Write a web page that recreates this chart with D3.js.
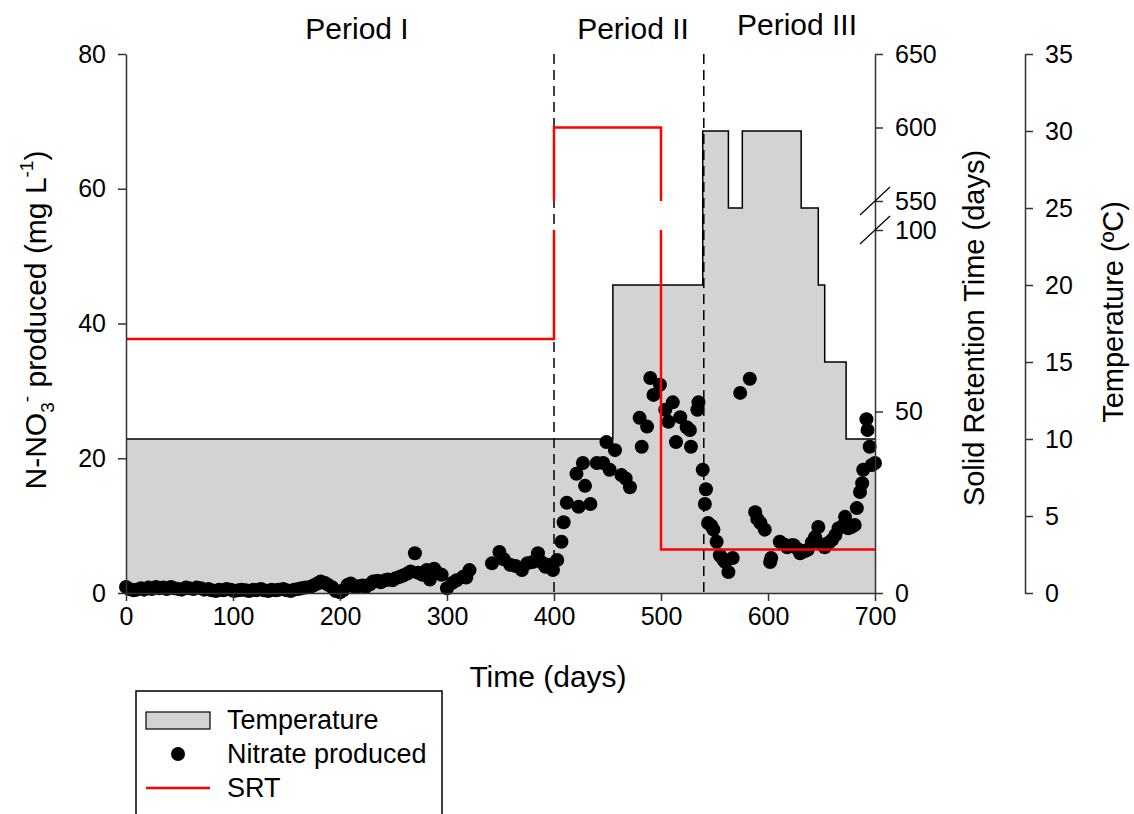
<!DOCTYPE html>
<html>
<head>
    <meta charset="utf-8">
    <title>Nitrate, SRT and temperature</title>
    <style>
        body { margin: 0; background: #fff; }
        svg text { font-family: "Liberation Sans", Arial, sans-serif; fill: #000; }
        .axis path, .axis line { stroke: #333; stroke-width: 1.5; }
        .axis text { font-size: 25px; }
    </style>
</head>
<body>
<div id="plot"></div>
<script src="https://cdn.jsdelivr.net/npm/d3@7"></script>
<script>

    // temperature steps (day the step starts, degC)
    let tempDays = [0, 455, 539, 563, 576, 631, 647, 653, 673, 700];
    let tempVals = [10, 20, 30, 25, 30, 25, 20, 15, 10, 10];

    // solid retention time steps (day, days)
    let srtDays = [0, 400, 500, 700];
    let srtVals = [70, 600, 12, 12];

    let periodDays = [400, 540];
    let periodNames = ['Period I', 'Period II', 'Period III'];

    // nitrate produced, [day, mg/L]
    let nitrate = [
        [0,0.9],[3,0.6],[7,0.4],[10,0.5],[14,0.7],[17,0.5],[21,0.8],[24,0.6],[28,0.9],[31,0.7],
        [35,0.8],[38,0.6],[42,0.9],[45,0.7],[49,0.6],[52,0.5],[56,0.8],[59,0.7],[63,0.6],[66,0.8],
        [70,0.7],[73,0.5],[77,0.6],[80,0.4],[84,0.3],[87,0.5],[91,0.4],[94,0.6],[98,0.5],[101,0.3],
        [105,0.4],[108,0.5],[112,0.4],[115,0.3],[119,0.5],[122,0.4],[126,0.6],[129,0.4],[133,0.3],
        [136,0.5],[140,0.4],[143,0.5],[147,0.6],[150,0.4],[154,0.3],[157,0.5],[161,0.6],[164,0.7],
        [168,0.8],[172,0.9],[175,1.1],[179,1.4],[182,1.7],[186,1.5],[189,1.2],[193,0.8],[196,0.3],
        [200,0.1],[203,0.4],[207,1.2],[210,1.4],[214,0.9],[217,1.0],[221,1.1],[224,0.9],[228,1.3],
        [231,1.7],[235,1.8],[238,1.6],[242,1.9],[245,2.0],[249,1.9],[252,2.2],[256,2.4],[259,2.6],
        [263,2.9],[266,3.2],[270,5.9],[273,3.0],[277,2.7],[281,3.4],[284,2.0],[288,3.6],[291,3.0],
        [295,2.7],[300,0.7],[305,1.5],[309,1.9],[315,2.4],[318,2.3],[321,3.4],
        [342,4.4],[349,6.1],[353,5.0],[359,4.2],[364,4.0],[370,3.4],[375,4.4],[380,4.6],[385,5.9],
        [389,4.5],[392,3.9],[396,4.2],[399,3.4],[403,4.9],[407,7.6],[409,10.5],[412,13.4],[421,17.7],
        [423,12.8],[427,19.3],[429,15.9],[434,13.2],[440,19.3],[446,19.3],[449,22.4],[452,18.3],
        [457,21.2],[463,17.5],[467,17.0],[471,15.7],[480,26.0],[482,21.7],[487,24.7],[490,31.9],
        [493,29.4],[499,30.9],[504,27.2],[507,25.4],[511,28.3],[514,22.4],[518,26.1],[524,24.6],
        [527,24.2],[528,21.7],[534,27.2],[535,28.3],[539,18.3],
        [541,13.2],[542,15.4],[544,10.4],[547,10.0],[549,9.4],[552,7.6],[555,5.6],[558,5.0],
        [560,4.6],[563,3.1],[567,5.2],[574,29.7],[583,31.8],[588,12.0],[590,11.0],[593,10.4],
        [597,9.4],[602,4.6],[603,5.2],[611,7.6],[615,7.2],[618,6.8],[622,7.1],[624,7.1],[628,6.5],
        [630,5.9],[634,6.2],[637,6.4],[641,7.5],[644,8.3],[647,9.8],[650,7.2],[653,6.8],[657,7.5],
        [660,7.9],[663,8.6],[666,9.6],[670,10.0],[672,11.3],[675,9.6],[678,9.8],[681,10.1],
        [683,12.6],[686,15.0],[688,16.3],[689,18.3],[692,25.8],[693,24.2],[695,21.7],[697,19.0],
        [700,19.3]
    ];

    let xTicks = [0, 100, 200, 300, 400, 500, 600, 700];
    let nTicks = [0, 20, 40, 60, 80];
    let srtTicks = [0, 50, 100, 550, 600, 650];
    let tempTicks = [0, 5, 10, 15, 20, 25, 30, 35];

    function translate(x, y) {
        return 'translate(' + x + ', ' + y + ')';
    }

    let svgWidth = 1134;
    let svgHeight = 814;
    let plotLeft = 126, plotRight = 875, plotTop = 54, plotBottom = 593;
    let srtBreakLo = 100, srtBreakHi = 550;

    let svg = d3.select('#plot')
        .append('svg')
        .attr('width', svgWidth)
        .attr('height', svgHeight);

    let x = d3.scaleLinear().domain([0, 700]).range([plotLeft, plotRight]);
    let yN = d3.scaleLinear().domain([0, 80]).range([plotBottom, plotTop]);
    // broken axis: 0-100 on the lower part, 550-650 on the upper part
    let ySrt = d3.scaleLinear().domain([0, 100, 550, 650]).range([plotBottom, 230, 201, plotTop]);
    let yT = d3.scaleLinear().domain([0, 35]).range([plotBottom, plotTop]);

    // temperature area
    let tempData = tempDays.map((d, i) => [d, tempVals[i]]);
    svg.append('path')
        .datum(tempData)
        .attr('d', d3.area().curve(d3.curveStepAfter)
            .x(d => x(d[0])).y0(plotBottom).y1(d => yT(d[1])))
        .style('fill', '#d3d3d3');
    svg.append('path')
        .datum(tempData)
        .attr('d', d3.line().curve(d3.curveStepAfter)
            .x(d => x(d[0])).y(d => yT(d[1])))
        .style('fill', 'none')
        .style('stroke', '#000')
        .style('stroke-width', 1.5);

    // nitrate points
    svg.append('g')
        .selectAll('circle')
        .data(nitrate)
        .enter()
        .append('circle')
        .attr('cx', d => x(d[0]))
        .attr('cy', d => yN(d[1]))
        .attr('r', 7)
        .style('fill', '#000');

    // period separators
    svg.selectAll('.sep')
        .data(periodDays)
        .enter()
        .append('line')
        .attr('x1', d => x(d)).attr('x2', d => x(d))
        .attr('y1', plotTop).attr('y2', plotBottom)
        .style('stroke', '#000')
        .style('stroke-width', 1.5)
        .style('stroke-dasharray', '10,6');

    // SRT step line, with gaps where it crosses the axis break
    let srtPts = [];
    for (let i = 0; i < srtDays.length - 1; i++) {
        srtPts.push([srtDays[i], srtVals[i]]);
        srtPts.push([srtDays[i + 1], srtVals[i]]);
        let a = srtVals[i], b = srtVals[i + 1], d = srtDays[i + 1];
        if (a <= srtBreakLo && b >= srtBreakHi) {
            srtPts.push([d, srtBreakLo], null, [d, srtBreakHi]);
        } else if (a >= srtBreakHi && b <= srtBreakLo) {
            srtPts.push([d, srtBreakHi], null, [d, srtBreakLo]);
        }
    }
    svg.append('path')
        .datum(srtPts)
        .attr('d', d3.line().defined(d => d !== null)
            .x(d => x(d[0])).y(d => ySrt(d[1])))
        .style('fill', 'none')
        .style('stroke', '#ff0000')
        .style('stroke-width', 2.5);

    // axes
    svg.append('g')
        .attr('class', 'axis')
        .attr('transform', translate(0, plotBottom))
        .call(d3.axisBottom(x).tickValues(xTicks).tickSize(8).tickSizeOuter(0).tickPadding(6));

    svg.append('g')
        .attr('class', 'axis')
        .attr('transform', translate(plotLeft, 0))
        .call(d3.axisLeft(yN).tickValues(nTicks).tickSize(8).tickSizeOuter(0).tickPadding(12));

    let srtAxis = svg.append('g')
        .attr('class', 'axis')
        .attr('transform', translate(plotRight, 0))
        .call(d3.axisRight(ySrt).tickValues(srtTicks).tickSize(8).tickSizeOuter(0).tickPadding(12));
    // break marks
    srtAxis.selectAll('.brk')
        .data([ySrt(srtBreakHi), ySrt(srtBreakLo)])
        .enter()
        .append('line')
        .attr('x1', -15).attr('x2', 15)
        .attr('y1', d => d + 14).attr('y2', d => d - 14)
        .style('stroke', '#000')
        .style('stroke-width', 1.2);

    svg.append('g')
        .attr('class', 'axis')
        .attr('transform', translate(1025, 0))
        .call(d3.axisRight(yT).tickValues(tempTicks).tickSize(8).tickSizeOuter(0).tickPadding(12));

    // axis titles
    svg.append('text')
        .attr('x', 548)
        .attr('y', 676)
        .attr('dy', '0.35em')
        .style('text-anchor', 'middle')
        .style('font-size', '30px')
        .text('Time (days)');

    let yTitle = svg.append('text')
        .attr('transform', translate(46, 320) + ' rotate(-90)')
        .style('text-anchor', 'middle')
        .style('font-size', '30px');
    yTitle.append('tspan').text('N-NO');
    yTitle.append('tspan').attr('dy', 8).style('font-size', '19px').text('3');
    yTitle.append('tspan').attr('dy', -21).style('font-size', '19px').text('-');
    yTitle.append('tspan').attr('dy', 13).text(' produced (mg L');
    yTitle.append('tspan').attr('dy', -13).style('font-size', '19px').text('-1');
    yTitle.append('tspan').attr('dy', 13).text(')');

    svg.append('text')
        .attr('transform', translate(984, 328) + ' rotate(-90)')
        .style('text-anchor', 'middle')
        .style('font-size', '29px')
        .text('Solid Retention Time (days)');

    svg.append('text')
        .attr('transform', translate(1123, 312) + ' rotate(-90)')
        .style('text-anchor', 'middle')
        .style('font-size', '29px')
        .text('Temperature (ºC)');

    // period labels
    let periodX = [357, 633, 797];
    let periodY = [28, 28, 24];
    svg.selectAll('.period')
        .data(periodNames)
        .enter()
        .append('text')
        .attr('x', (d, i) => periodX[i])
        .attr('y', (d, i) => periodY[i])
        .attr('dy', '0.35em')
        .style('text-anchor', 'middle')
        .style('font-size', '30px')
        .text(d => d);

    // legend
    let legend = svg.append('g').attr('transform', translate(136, 691));
    legend.append('rect')
        .attr('width', 306).attr('height', 150)
        .style('fill', '#fff').style('stroke', '#000').style('stroke-width', 1.5);
    legend.append('rect')
        .attr('x', 10).attr('y', 21).attr('width', 64).attr('height', 17)
        .style('fill', '#d3d3d3').style('stroke', '#000').style('stroke-width', 1.2);
    legend.append('circle')
        .attr('cx', 42).attr('cy', 63).attr('r', 7)
        .style('fill', '#000');
    legend.append('line')
        .attr('x1', 10).attr('x2', 74).attr('y1', 97).attr('y2', 97)
        .style('stroke', '#ff0000').style('stroke-width', 2.5);
    legend.selectAll('.lab')
        .data(['Temperature', 'Nitrate produced', 'SRT'])
        .enter()
        .append('text')
        .attr('x', 91)
        .attr('y', (d, i) => 29 + i * 34)
        .attr('dy', '0.35em')
        .style('font-size', '27px')
        .text(d => d);

</script>
</body>
</html>
